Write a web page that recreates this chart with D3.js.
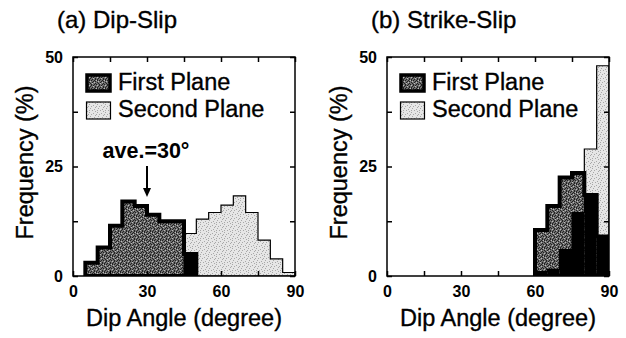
<!DOCTYPE html>
<html lang="en">
<head>
<meta charset="UTF-8" />
<title>Dip angle histograms</title>
<style>
  body { margin:0; background:#fff; }
  svg { display:block; font-family:"Liberation Sans", Arial, sans-serif; }
  .tick text { font-weight:bold; font-size:16px; fill:#000; }
  .lbl { stroke:#000; stroke-width:0.35px; }
</style>
</head>
<body>
<svg id="chart" width="626" height="338"></svg>
<script src="https://d3js.org/d3.v7.min.js"></script>
<script>
// dip angle bins, 5 degrees wide, lower edges 0..85
const binLo = [0,5,10,15,20,25,30,35,40,45,50,55,60,65,70,75,80,85];
const binW = 5;

// frequency (%) per bin
const dipFirst     = [0, 3, 6.5, 11.5, 17, 16, 14, 12.5, 12.5, 5, 0, 0, 0, 0, 0, 0, 0, 0];
const dipSecond    = [0, 0, 0, 0, 0, 0, 0, 0, 0, 9.7, 13, 14.5, 16.2, 18.3, 14.5, 8.2, 3.9, 0.8];
const strikeFirst  = [0, 0, 0, 0, 0, 0, 0, 0, 0, 0, 0, 0, 10.5, 16, 22.5, 23.5, 18.5, 9];
const strikeSecond = [0, 0, 0, 0, 0, 0, 0, 0, 0, 0, 0, 0, 1, 1.5, 6, 14.5, 29, 48];

const xTicks = [0,15,30,45,60,75,90];
const xLabels = [0,30,60,90];
const yTicks = [0,12.5,25,37.5,50];
const yLabels = [0,25,50];

const legendNames = ["First Plane","Second Plane"];

const svg = d3.select("#chart");
const defs = svg.append("defs");

// stipple tiles for the two fills
function stipple(id, base, rows, colors){
  const p = defs.append("pattern").attr("id",id)
    .attr("patternUnits","userSpaceOnUse").attr("width",8).attr("height",8);
  p.append("rect").attr("width",8).attr("height",8).attr("fill",base);
  rows.forEach((r,j)=>r.split("").forEach((c,i)=>{
    if(colors[c]) p.append("rect").attr("x",i).attr("y",j)
      .attr("width",1).attr("height",1).attr("fill",colors[c]);
  }));
}
stipple("darkFill","#6e6e6e",[
  "k.k..k.w",".w..k.k.","k..k.w..",".k.w..k.",
  "..k..k.k","w.k.k...",".k..w.k.","k..k..k."],{k:"#222",w:"#bbb"});
stipple("lightFill","#e6e6e6",[
  "g.......","....g...","..g....g","......g.",
  ".g......",".....g..","g..g....","......g."],{g:"#a8a8a8"});

const plotTop = 57, plotBottom = 276;
const panels = [
  {left:73,  title:"(a) Dip-Slip",     first:dipFirst,    second:dipSecond,    note:true},
  {left:387, title:"(b) Strike-Slip",  first:strikeFirst, second:strikeSecond, note:false}
];
const plotW = 222;

const y = d3.scaleLinear().domain([0,50]).range([plotBottom, plotTop]);

// closed step outline over the non-zero run of a series
function histPath(x, vals){
  const idx = vals.map((v,i)=>v>0?i:-1).filter(i=>i>=0);
  const a = idx[0], b = idx[idx.length-1];
  const pts = [[x(binLo[a]), y(0)]];
  for(let i=a;i<=b;i++){
    pts.push([x(binLo[i]), y(vals[i])]);
    pts.push([x(binLo[i]+binW), y(vals[i])]);
  }
  pts.push([x(binLo[b]+binW), y(0)]);
  return d3.line()(pts) + "Z";
}

panels.forEach((p,k)=>{
  const x = d3.scaleLinear().domain([0,90]).range([p.left, p.left+plotW]);
  const g = svg.append("g");

  defs.append("clipPath").attr("id","clip"+k)
    .append("rect").attr("x",p.left).attr("y",plotTop)
    .attr("width",plotW).attr("height",plotBottom-plotTop);
  const h = g.append("g").attr("clip-path",`url(#clip${k})`);

  h.append("path").attr("d",histPath(x,p.second)).attr("fill","url(#lightFill)");
  h.append("path").attr("d",histPath(x,p.first)).attr("fill","url(#darkFill)");
  // overlap of the two planes in solid black
  h.selectAll("rect.ov").data(binLo.map((lo,i)=>({lo,v:Math.min(p.first[i],p.second[i])})).filter(d=>d.v>0))
    .join("rect").attr("class","ov")
    .attr("x",d=>x(d.lo)).attr("width",d=>x(d.lo+binW)-x(d.lo))
    .attr("y",d=>y(d.v)).attr("height",d=>y(0)-y(d.v)).attr("fill","#000");
  h.append("path").attr("d",histPath(x,p.first)).attr("fill","none")
    .attr("stroke","#000").attr("stroke-width",4).attr("stroke-linejoin","miter");
  h.append("path").attr("d",histPath(x,p.second)).attr("fill","none")
    .attr("stroke","#000").attr("stroke-width",1.2);

  // frame with inward ticks on all sides
  g.append("rect").attr("x",p.left).attr("y",plotTop).attr("width",plotW).attr("height",plotBottom-plotTop)
    .attr("fill","none").attr("stroke","#000").attr("stroke-width",1.5);

  const fmtX = d=>xLabels.includes(d)?d:"";
  const fmtY = d=>yLabels.includes(d)?d:"";
  const ax = [
    g.append("g").attr("transform",`translate(0,${plotBottom})`)
      .call(d3.axisBottom(x).tickValues(xTicks).tickSize(-5).tickSizeOuter(0).tickPadding(10).tickFormat(fmtX)),
    g.append("g").attr("transform",`translate(0,${plotTop})`)
      .call(d3.axisTop(x).tickValues(xTicks).tickSize(-5).tickSizeOuter(0).tickFormat("")),
    g.append("g").attr("transform",`translate(${p.left},0)`)
      .call(d3.axisLeft(y).tickValues(yTicks).tickSize(-5).tickSizeOuter(0).tickPadding(10).tickFormat(fmtY)),
    g.append("g").attr("transform",`translate(${p.left+plotW},0)`)
      .call(d3.axisRight(y).tickValues(yTicks).tickSize(-5).tickSizeOuter(0).tickFormat(""))
  ];
  ax.forEach(a=>{
    a.select(".domain").remove();
    a.selectAll(".tick line").attr("stroke","#000").attr("stroke-width",1.5);
    a.attr("font-family",null).attr("font-size",null);
  });

  // titles
  g.append("text").attr("class","lbl").attr("x",p.left-16).attr("y",28).attr("font-size",24).text(p.title);
  g.append("text").attr("class","lbl").attr("x",p.left+plotW/2).attr("y",326).attr("text-anchor","middle")
    .attr("font-size",23.5).text("Dip Angle (degree)");
  g.append("text").attr("class","lbl").attr("transform",`translate(${p.left-40},${(plotTop+plotBottom)/2-4}) rotate(-90)`)
    .attr("text-anchor","middle").attr("font-size",23.5).text("Frequency (%)");

  // legend
  const lg = g.append("g").attr("transform",`translate(${p.left},0)`);
  lg.append("rect").attr("x",14).attr("y",75).attr("width",23).attr("height",16)
    .attr("fill","url(#darkFill)").attr("stroke","#000").attr("stroke-width",3.5);
  lg.append("rect").attr("x",13.5).attr("y",102).attr("width",24).attr("height",17)
    .attr("fill","url(#lightFill)").attr("stroke","#000").attr("stroke-width",1.2);
  lg.selectAll("text.lt").data(legendNames).join("text").attr("class","lt lbl")
    .attr("x",45).attr("y",(d,i)=>90+i*27).attr("font-size",23.5).text(d=>d);

  if(p.note){
    const ax0 = x(30);
    g.append("text").attr("x",ax0-1).attr("y",158).attr("text-anchor","middle")
      .attr("font-size",21.5).attr("font-weight","bold").text("ave.=30°");
    g.append("line").attr("x1",ax0).attr("x2",ax0).attr("y1",166).attr("y2",190)
      .attr("stroke","#000").attr("stroke-width",2);
    g.append("path").attr("d",`M${ax0-4},188L${ax0+4},188L${ax0},197Z`).attr("fill","#000");
  }
});
</script>
</body>
</html>
